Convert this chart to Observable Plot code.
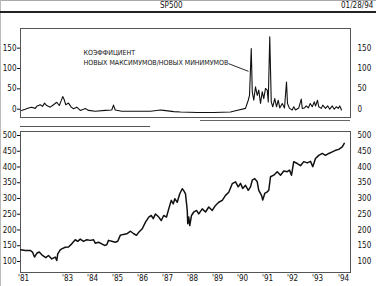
<!DOCTYPE html>
<html>
<head>
<meta charset="utf-8">
<script src="https://cdn.jsdelivr.net/npm/d3@7"></script>
<script src="https://cdn.jsdelivr.net/npm/@observablehq/plot@0.6"></script>
<style>
  html, body { margin: 0; padding: 0; background: #fff; }
  #wrap { position: relative; width: 376px; height: 286px; overflow: hidden; font-family: "DejaVu Sans Condensed", "Liberation Sans Narrow", sans-serif; color: #111; }
  .abs { position: absolute; }
  #title { left: 160px; top: 1px; font-size: 8px; line-height: 10px; }
  #date { left: 341px; top: 1px; font-size: 8px; line-height: 10px; }
  #rule { left: 0; top: 11px; width: 376px; height: 2px; background: #222; }
  #topline { left: 0; top: 0; width: 376px; height: 1px; background: #aaa; }
  #leftline { left: 0; top: 0; width: 1px; height: 286px; background: #bbb; }
  #sep1 { left: 20px; top: 126px; width: 130px; height: 1px; background: #555; }
  #sep2 { left: 200px; top: 120px; width: 150px; height: 1px; background: #666; }
  #top { left: 0; top: 20px; }
  #bottom { left: 0; top: 126px; }
</style>
</head>
<body>
<div id="wrap">
  <div class="abs" id="topline"></div>
  <div class="abs" id="leftline"></div>
  <div class="abs" id="title">SP500</div>
  <div class="abs" id="date">01/28/94</div>
  <div class="abs" id="rule"></div>
  <div class="abs" id="sep1"></div>
  <div class="abs" id="sep2"></div>
  <div class="abs" id="top"></div>
  <div class="abs" id="bottom"></div>
</div>
<script>
// ---- Data ----
const spxYears = [
  1981.13,1981.31,1981.51,1981.60,1981.68,1981.77,1981.87,1982.00,1982.13,1982.24,
  1982.37,1982.51,1982.57,1982.61,1982.71,1982.77,1982.91,1983.04,1983.17,1983.31,
  1983.41,1983.51,1983.64,1983.77,1983.91,1984.04,1984.11,1984.24,1984.37,1984.48,
  1984.57,1984.64,1984.77,1984.91,1985.01,1985.11,1985.24,1985.37,
  1985.52,1985.65,1985.76,1985.85,1985.99,1986.12,1986.25,1986.35,1986.43,1986.52,
  1986.65,1986.75,1986.85,1986.96,1987.05,1987.15,1987.23,1987.29,1987.39,1987.49,
  1987.59,1987.65,1987.72,1987.79,1987.81,1987.85,1987.89,1987.96,1988.05,1988.16,
  1988.25,1988.39,1988.52,1988.65,1988.79,1988.92,1989.05,1989.19,1989.32,1989.45,
  1989.59,
  1989.72,1989.83,1989.92,1990.01,1990.12,1990.23,1990.32,1990.39,1990.49,1990.59,
  1990.65,1990.76,1990.81,1990.89,1990.99,1991.05,1991.12,1991.25,1991.39,1991.52,
  1991.65,1991.79,1991.88,1991.96,1992.05,1992.19,1992.32,1992.45,1992.59,1992.72,
  1992.81,1992.92,1993.05,1993.19,1993.32,1993.45,1993.59,1993.72,1993.85,1993.99,
  1994.07
];
const spxValues = [
  137,135,135,130,114,126,130,119,112,119,
  108,114,103,124,137,140,145,146,156,169,
  164,171,164,169,167,169,158,161,156,151,
  153,167,164,161,164,183,186,188,
  196,188,183,193,204,225,241,246,236,251,
  241,230,246,241,267,294,283,299,288,315,
  331,325,315,262,220,241,214,246,257,262,
  251,267,257,273,262,278,288,294,310,320,
  347,
  353,337,348,332,342,326,337,358,363,353,
  326,310,295,316,321,326,369,374,385,374,
  387,385,390,374,417,411,404,417,413,418,
  401,427,437,443,437,443,448,453,456,464,
  475
];

const ratioYears = [
  1981.16,1981.31,1981.44,1981.57,1981.71,1981.77,1981.91,1982.00,1982.08,1982.17,
  1982.31,1982.44,1982.57,1982.67,1982.75,1982.81,1982.87,1982.93,1983.04,1983.15,
  1983.24,1983.37,1983.51,1983.64,1983.71,1983.84,1984.11,1984.51,1984.77,1984.84,
  1984.91,1985.17,1985.57,
  1985.92,1986.32,1986.72,1986.85,1987.25,1987.52,1988.19,1988.85,1989.52,1989.72,
  1990.12,1990.23,1990.28,1990.35,1990.39,1990.45,1990.52,1990.59,1990.65,1990.72,
  1990.79,1990.85,1990.92,1990.99,1991.03,1991.09,1991.15,1991.21,1991.29,1991.36,
  1991.43,1991.49,1991.59,1991.68,1991.76,1991.80,1991.88,1991.99,1992.05,1992.12,
  1992.25,1992.35,1992.39,1992.48,1992.55,1992.63,1992.71,1992.79,1992.87,1992.92,
  1993.00,1993.05,1993.15,1993.21,1993.32,1993.41,1993.49,1993.59,1993.67,1993.75,
  1993.83,1993.89,1993.96
];
const ratioValues = [
  -3,0,3,5,2,7,11,7,15,9,
  5,11,17,9,21,31,23,11,15,5,
  1,5,-3,0,2,-3,-5,-3,-2,10,
  -2,-5,-5,
  -5,-5,-2,-3,-6,-7,-8,-8,-7,-4,
  2,22,34,149,43,22,55,34,47,14,
  43,26,51,47,18,178,18,6,26,6,
  22,3,14,3,67,14,2,-2,6,-2,
  3,25,2,3,8,3,14,6,18,8,
  22,6,2,10,2,8,0,8,0,6,
  2,8,-2
];

const xTickYears = [1981.24,1983,1984,1985,1986,1987,1988,1989,1990,1991,1992,1993,1994.04];
const xTickLabels = ["'81","'83","'84","'85","'86","'87","'88","'89","'90","'91","'92","'93","'94"];
const ratioTicks = [0, 50, 100, 150];
const spxTicks = [100, 150, 200, 250, 300, 350, 400, 450, 500];

const noteLines = ["КОЭФФИЦИЕНТ", "НОВЫХ МАКСИМУМОВ/НОВЫХ МИНИМУМОВ"];
const noteYears = [1983.64, 1983.64];
const noteValues = [139, 113];
const pointerFrom = [1989.44, 112];
const pointerTo = [1990.24, 93];

// ---- Build ----
const spx = spxYears.map((t, i) => ({t, v: spxValues[i]}));
const ratio = ratioYears.map((t, i) => ({t, v: ratioValues[i]}));
const notes = noteLines.map((s, i) => ({s, t: noteYears[i], v: noteValues[i]}));
const labelOf = new Map(xTickYears.map((d, i) => [d, xTickLabels[i]]));
const xDomain = [1981.12, 1994.32];
const font = '"DejaVu Sans Condensed", "Liberation Sans Narrow", sans-serif';

const topChart = Plot.plot({
  width: 376, height: 106,
  marginTop: 8, marginBottom: 9, marginLeft: 20, marginRight: 26,
  style: {fontFamily: font, fontSize: "8px", background: "transparent", color: "#111"},
  x: {domain: xDomain, axis: null},
  y: {domain: [-20.4, 198.3], axis: null},
  marks: [
    Plot.frame({stroke: "#555"}),
    Plot.axisY({anchor: "left", label: null, ticks: ratioTicks, tickSize: 3, tickPadding: 1, tickFormat: d => String(d)}),
    Plot.axisY({anchor: "right", label: null, ticks: ratioTicks, tickSize: 0, tickPadding: 7, textAnchor: "start", tickFormat: d => String(d)}),
    Plot.line(ratio, {x: "t", y: "v", stroke: "#111", strokeWidth: 1.1}),
    Plot.text(notes, {x: "t", y: "v", text: "s", textAnchor: "start", fontSize: 7, fill: "#111"}),
    Plot.link([{x1: pointerFrom[0], y1: pointerFrom[1], x2: pointerTo[0], y2: pointerTo[1]}],
      {x1: "x1", y1: "y1", x2: "x2", y2: "y2", stroke: "#111", strokeWidth: 0.9})
  ]
});
document.getElementById("top").appendChild(topChart);

const bottomChart = Plot.plot({
  width: 376, height: 160,
  marginTop: 5, marginBottom: 14, marginLeft: 20, marginRight: 26,
  style: {fontFamily: font, fontSize: "8px", background: "transparent", color: "#111"},
  x: {domain: xDomain, axis: null},
  y: {domain: [65, 512.7], axis: null},
  marks: [
    Plot.frame({stroke: "#555"}),
    Plot.axisY({anchor: "left", label: null, ticks: spxTicks, tickSize: 3, tickPadding: 1, tickFormat: d => String(d)}),
    Plot.axisY({anchor: "right", label: null, ticks: spxTicks, tickSize: 0, tickPadding: 7, textAnchor: "start", tickFormat: d => String(d)}),
    Plot.axisX({anchor: "bottom", label: null, ticks: xTickYears, tickSize: 0, tickPadding: 3, tickFormat: d => labelOf.get(d)}),
    Plot.line(spx, {x: "t", y: "v", stroke: "#111", strokeWidth: 1.5})
  ]
});
document.getElementById("bottom").appendChild(bottomChart);
</script>
</body>
</html>
